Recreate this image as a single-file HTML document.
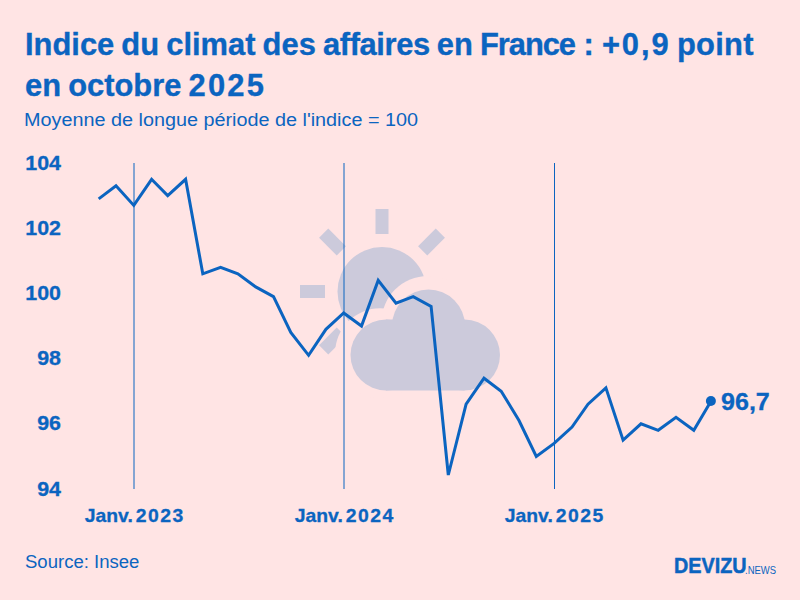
<!DOCTYPE html>
<html><head><meta charset="utf-8">
<style>
html,body{margin:0;padding:0;}
body{width:800px;height:600px;background:#ffe4e4;position:relative;overflow:hidden;font-family:"Liberation Sans",sans-serif;color:#0b64c0;}
.t{position:absolute;white-space:nowrap;line-height:1;transform-origin:0 0;}
.r{transform-origin:100% 0;text-align:right;}
svg{position:absolute;left:0;top:0;}
</style></head><body>
<svg width="800" height="600" viewBox="0 0 800 600">
 <g fill="#cccadb">
  <rect x="375.5" y="209" width="13" height="25"/>
  <rect x="300" y="285" width="25" height="13"/>
  <rect x="320" y="235.5" width="25" height="13" transform="rotate(45 332.5 242)"/>
  <rect x="419" y="235.5" width="25" height="13" transform="rotate(-45 431.5 242)"/>
  <rect x="320" y="334.5" width="25" height="13" transform="rotate(-45 332.5 341)"/>
  <circle cx="382" cy="291.5" r="44.5"/>
 </g>
 <g fill="#ffe4e4">
  <circle cx="380" cy="353.2" r="44.9"/>
  <circle cx="427.9" cy="322.5" r="46.5"/>
 </g>
 <g fill="#cccadb">
  <circle cx="386" cy="355" r="35.5"/>
  <circle cx="464.5" cy="355" r="35.5"/>
  <circle cx="428.5" cy="326" r="36.5"/>
  <rect x="386" y="319.5" width="78.5" height="71"/>
 </g>
 <g stroke="#0b64c0" stroke-width="1">
  <line x1="134" y1="163" x2="134" y2="489"/>
  <line x1="344" y1="163" x2="344" y2="489"/>
  <line x1="554.5" y1="163" x2="554.5" y2="489"/>
 </g>
 <polyline points="98.7,198.9 116.0,185.8 133.8,205.4 151.6,179.3 167.7,195.6 185.6,179.3 202.8,273.8 220.6,267.3 237.9,273.8 255.7,286.9 273.5,296.7 290.8,332.5 308.6,355.3 325.9,329.3 343.7,313.0 361.5,326.0 378.2,280.4 396.0,303.2 413.2,296.7 431.1,306.4 448.3,475.0 466.1,404.2 484.0,378.2 501.2,391.2 519.0,420.5 536.3,456.4 554.1,443.4 572.0,427.1 588.0,404.2 605.9,387.9 623.1,440.1 641.0,423.8 658.2,430.3 676.0,417.3 693.8,430.3 711.1,401.0" fill="none" stroke="#0b64c0" stroke-width="3" stroke-linejoin="miter" stroke-miterlimit="4"/>
 <circle cx="710.9" cy="401" r="5" fill="#0b64c0"/>
</svg>
<div class="t" style="left:25px;top:24px;font-size:32px;font-weight:bold;line-height:41px;-webkit-text-stroke:0.35px #0b64c0;word-spacing:-1.5px;transform:scaleX(0.965)">Indice du climat des <span style="letter-spacing:-0.4px">affaires</span><span style="margin-left:0px"> </span>en <span style="letter-spacing:-1.1px">France</span><span style="margin-left:1.5px"> </span>:<span style="margin-left:1px"> </span><span style="letter-spacing:2px">+0,9</span><span style="margin-left:-0.8px"> </span><span style="letter-spacing:0.3px">point</span><br>en octobre <span style="letter-spacing:2.3px">2025</span></div>
<div class="t" style="left:24px;top:111px;font-size:18px;transform:scaleX(1.1);">Moyenne de longue période de l'indice = 100</div>
<div class="t r" style="left:0px;width:61px;top:152.85px;font-size:20px;font-weight:bold;-webkit-text-stroke:0.3px #0b64c0;transform:scaleX(1.07)">104</div>
<div class="t r" style="left:0px;width:61px;top:218.05px;font-size:20px;font-weight:bold;-webkit-text-stroke:0.3px #0b64c0;transform:scaleX(1.07)">102</div>
<div class="t r" style="left:0px;width:61px;top:283.25px;font-size:20px;font-weight:bold;-webkit-text-stroke:0.3px #0b64c0;transform:scaleX(1.07)">100</div>
<div class="t r" style="left:0px;width:61px;top:348.45px;font-size:20px;font-weight:bold;-webkit-text-stroke:0.3px #0b64c0;transform:scaleX(1.07)">98</div>
<div class="t r" style="left:0px;width:61px;top:412.9px;font-size:20px;font-weight:bold;-webkit-text-stroke:0.3px #0b64c0;transform:scaleX(1.07)">96</div>
<div class="t r" style="left:0px;width:61px;top:478.85px;font-size:20px;font-weight:bold;-webkit-text-stroke:0.3px #0b64c0;transform:scaleX(1.07)">94</div>
<div class="t" style="left:33.599999999999994px;width:200px;text-align:center;transform-origin:50% 0;top:506px;font-size:19px;font-weight:bold;-webkit-text-stroke:0.3px #0b64c0;transform:scaleX(1.02)">Janv.<span style="margin-left:-2.5px"> </span><span style="letter-spacing:1.5px;margin-right:-1.5px">2023</span></div>
<div class="t" style="left:243.60000000000002px;width:200px;text-align:center;transform-origin:50% 0;top:506px;font-size:19px;font-weight:bold;-webkit-text-stroke:0.3px #0b64c0;transform:scaleX(1.02)">Janv.<span style="margin-left:-2.5px"> </span><span style="letter-spacing:1.5px;margin-right:-1.5px">2024</span></div>
<div class="t" style="left:454px;width:200px;text-align:center;transform-origin:50% 0;top:506px;font-size:19px;font-weight:bold;-webkit-text-stroke:0.3px #0b64c0;transform:scaleX(1.02)">Janv.<span style="margin-left:-2.5px"> </span><span style="letter-spacing:1.5px;margin-right:-1.5px">2025</span></div>
<div class="t" style="left:721px;top:391px;font-size:23px;font-weight:bold;transform:scaleX(1.09);-webkit-text-stroke:0.3px #0b64c0;">96,7</div>
<div class="t" style="left:25px;top:552.6px;font-size:18px;transform:scaleX(1.03);">Source: Insee</div>
<div class="t" style="left:674px;top:556px;font-size:21.5px;font-weight:bold;transform:scaleX(0.92);-webkit-text-stroke:0.5px #0b64c0">DEVIZU</div>
<div class="t" style="left:744.5px;top:565px;font-size:10.5px;transform:scaleX(0.9)">.NEWS</div>
</body></html>
